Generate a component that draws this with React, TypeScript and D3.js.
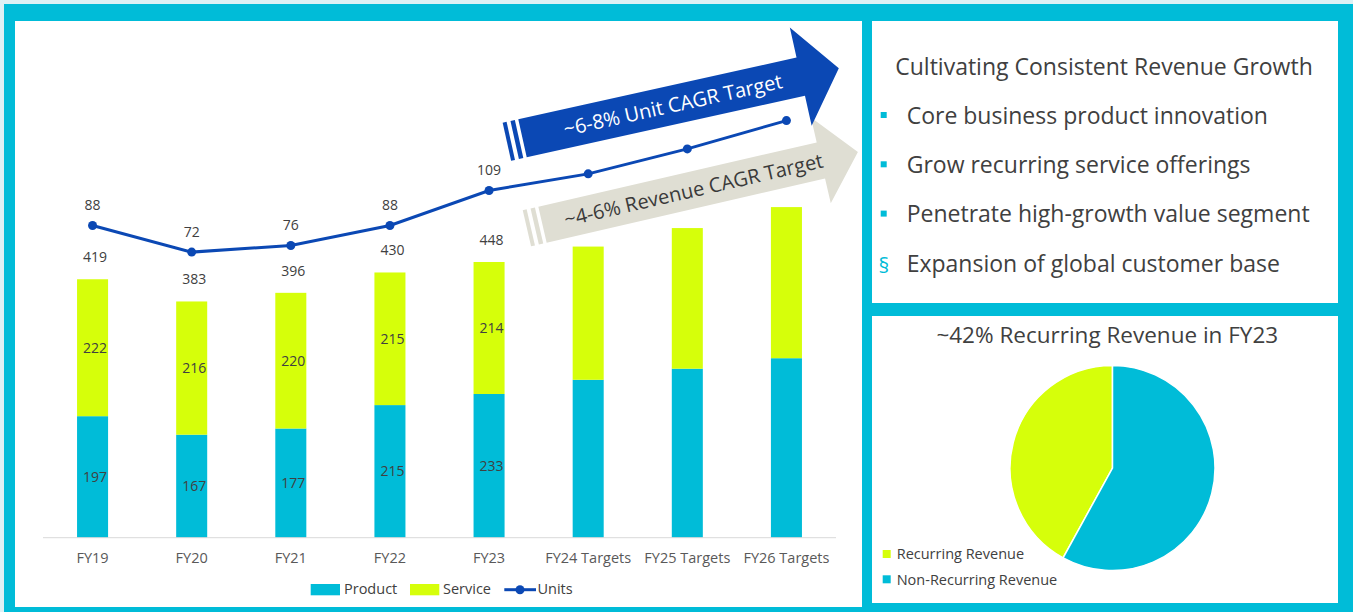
import React from 'react';
import * as d3 from 'd3';

// ---------- data ----------
const categories = ['FY19', 'FY20', 'FY21', 'FY22', 'FY23', 'FY24 Targets', 'FY25 Targets', 'FY26 Targets'];
const productValues = [197, 167, 177, 215, 233, 256, 274, 291];
const serviceValues = [222, 216, 220, 215, 214, 216, 228, 245];
const totalLabels = ['419', '383', '396', '430', '448', '', '', ''];
const productLabels = ['197', '167', '177', '215', '233', '', '', ''];
const serviceLabels = ['222', '216', '220', '215', '214', '', '', ''];
const unitValues = [88, 72, 76, 88, 109, 119, 134, 151];
const unitLabels = ['88', '72', '76', '88', '109', '', '', ''];
const seriesNames = ['Product', 'Service', 'Units'];

const panelTitle = 'Cultivating Consistent Revenue Growth';
const bullets = [
  'Core business product innovation',
  'Grow recurring service offerings',
  'Penetrate high-growth value segment',
  'Expansion of global customer base',
];
const bulletMarks = ['square', 'square', 'square', '§'];

const pieTitle = '~42% Recurring Revenue in FY23';
const pieLabels = ['Recurring Revenue', 'Non-Recurring Revenue'];
const pieValues = [42, 58];

const unitArrowText = '~6-8% Unit CAGR Target';
const revenueArrowText = '~4-6% Revenue CAGR Target';

// ---------- styles ----------
const TEAL = '#00BCD8';
const LIME = '#D6FF0A';
const BLUE = '#0B48B4';
const ARROW_GRAY = '#DFDED3';
const TEXT = '#404040';
const AXIS_TEXT = '#595959';
const FONT = '"Open Sans", "Noto Sans", sans-serif';

function Arrow(props: {
  x0: number; y0: number; angle: number; len: number; half: number; headHalf: number; tip: number;
  fill: string; text: string; textColor: string; textX: number; fontSize: number;
}) {
  const { x0, y0, angle, len, half, headHalf, tip, fill, text, textColor, textX, fontSize } = props;
  const d = `M0,${-half}L${len},${-half}L${len},${-headHalf}L${tip},0L${len},${headHalf}L${len},${half}L0,${half}Z`;
  return (
    <g transform={`translate(${x0},${y0}) rotate(${angle})`}>
      <rect x={-16} y={-half} width={4} height={2 * half} fill={fill} />
      <rect x={-8} y={-half} width={4.5} height={2 * half} fill={fill} />
      <path d={d} fill={fill} />
      <text x={textX} y={0} dy="0.36em" textAnchor="middle" fill={textColor}
        style={{ fontFamily: FONT, fontSize }}>{text}</text>
    </g>
  );
}

export default function App() {
  const W = 1353, H = 612;
  const baseline = 537.7;

  const x = d3.scaleBand<string>().domain(categories).range([43, 836]).paddingInner(0.687).paddingOuter(0.3435);
  const y = d3.scaleLinear().domain([0, 500]).range([baseline, baseline - 500 * 0.6168]);
  const yU = d3.scaleLinear().domain([0, 160]).range([372, 105.6]);
  const cx = (i: number) => (x(categories[i]) as number) + x.bandwidth() / 2;

  const unitLine = d3.line<number>().x((_, i) => cx(i)).y(d => yU(d));

  const pieSum = d3.sum(pieValues);
  const startA = -2 * Math.PI * pieValues[0] / pieSum;
  const pie = d3.pie<number>().sort(null).startAngle(startA).endAngle(startA + 2 * Math.PI);
  const arcs = pie(pieValues);
  const arc = d3.arc<d3.PieArcDatum<number>>().innerRadius(0).outerRadius(102.5);
  const pieColors = [LIME, TEAL];

  return (
    <svg width={W} height={H} style={{ position: 'absolute', left: 0, top: 0, fontFamily: FONT }}>
      {/* background frame */}
      <rect x={0} y={0} width={W} height={H} fill="#DCF1F5" />
      <rect x={4} y={4} width={W - 4} height={H - 4} fill={TEAL} />
      <rect x={15} y={21} width={847} height={586} fill="#FFFFFF" />
      <rect x={872} y={21} width={466} height={282} fill="#FFFFFF" />
      <rect x={872} y={316} width={466} height={287} fill="#FFFFFF" />

      {/* bars */}
      {categories.map((c, i) => {
        const x0 = x(c) as number;
        const bw = x.bandwidth();
        const pTop = y(productValues[i]);
        const sTop = y(productValues[i] + serviceValues[i]);
        return (
          <g key={c}>
            <rect x={x0} y={pTop} width={bw} height={baseline - pTop} fill={TEAL} />
            <rect x={x0} y={sTop} width={bw} height={pTop - sTop} fill={LIME} />
            {productLabels[i] && (
              <text x={cx(i) + 2.5} y={(pTop + baseline) / 2 + 5} textAnchor="middle" fill={TEXT} fontSize={14}>{productLabels[i]}</text>
            )}
            {serviceLabels[i] && (
              <text x={cx(i) + 2.5} y={(pTop + sTop) / 2 + 5} textAnchor="middle" fill={TEXT} fontSize={14}>{serviceLabels[i]}</text>
            )}
            {totalLabels[i] && (
              <text x={cx(i) + 2.5} y={sTop - 17} textAnchor="middle" fill={TEXT} fontSize={14}>{totalLabels[i]}</text>
            )}
            <text x={cx(i)} y={562.7} textAnchor="middle" fill={AXIS_TEXT} fontSize={14.5}>{c}</text>
          </g>
        );
      })}
      <line x1={43} x2={836} y1={baseline} y2={baseline} stroke="#D9D9D9" strokeWidth={1} />

      {/* arrows */}
      <Arrow x0={542.5} y0={224.7} angle={-13} len={285.7} half={18.5} headHalf={44} tip={323.7}
        fill={ARROW_GRAY} text={revenueArrowText} textColor="#3A3A3A" textX={155} fontSize={20} />
      <Arrow x0={522.5} y0={138.3} angle={-12.5} len={285} half={19.5} headHalf={50.4} tip={324}
        fill={BLUE} text={unitArrowText} textColor="#FFFFFF" textX={154} fontSize={20} />

      {/* units line */}
      <path d={unitLine(unitValues) as string} fill="none" stroke={BLUE} strokeWidth={3} />
      {unitValues.map((v, i) => (
        <g key={'u' + i}>
          <circle cx={cx(i)} cy={yU(v)} r={4.5} fill={BLUE} />
          {unitLabels[i] && (
            <text x={cx(i)} y={yU(v) - 15.5} textAnchor="middle" fill={TEXT} fontSize={14}>{unitLabels[i]}</text>
          )}
        </g>
      ))}

      {/* legend */}
      <rect x={310.7} y={584} width={29.3} height={11.3} fill={TEAL} />
      <text x={344} y={594} fill={TEXT} fontSize={14.5}>{seriesNames[0]}</text>
      <rect x={410} y={584} width={29.3} height={11.3} fill={LIME} />
      <text x={443} y={594} fill={TEXT} fontSize={14.5}>{seriesNames[1]}</text>
      <line x1={504.3} x2={536} y1={589.7} y2={589.7} stroke={BLUE} strokeWidth={3} />
      <circle cx={520} cy={589.7} r={4.5} fill={BLUE} />
      <text x={537.5} y={594} fill={TEXT} fontSize={14.5}>{seriesNames[2]}</text>

      {/* right top panel */}
      <text x={1104} y={75} textAnchor="middle" fill={TEXT} fontSize={23}>{panelTitle}</text>
      {bullets.map((b, i) => {
        const by = 123.7 + i * 49.3;
        return (
          <g key={b}>
            {bulletMarks[i] === 'square'
              ? <rect x={880.7} y={by - 11.7} width={6} height={6} fill={TEAL} />
              : <text x={884} y={by + 1.5} textAnchor="middle" fill={TEAL} fontSize={21}>{bulletMarks[i]}</text>}
            <text x={906.7} y={by} fill={TEXT} fontSize={23}>{b}</text>
          </g>
        );
      })}

      {/* right bottom panel */}
      <text x={1107.3} y={343.3} textAnchor="middle" fill={TEXT} fontSize={22.5}>{pieTitle}</text>
      <g transform="translate(1112.5,468)">
        {arcs.map((a, i) => (
          <path key={'p' + i} d={arc(a) as string} fill={pieColors[i]} stroke="#FFFFFF" strokeWidth={1.5} />
        ))}
      </g>
      {pieLabels.map((l, i) => (
        <g key={l}>
          <rect x={882.7} y={550 + i * 25.3} width={8} height={8} fill={pieColors[i]} />
          <text x={896.7} y={559.3 + i * 25.7} fill={TEXT} fontSize={14.5}>{l}</text>
        </g>
      ))}
    </svg>
  );
}
